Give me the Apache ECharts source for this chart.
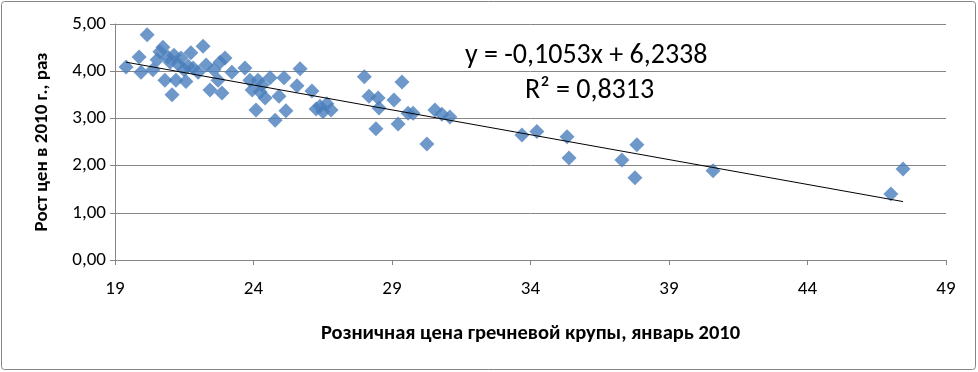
<!DOCTYPE html>
<html><head><meta charset="utf-8">
<script src="https://cdn.jsdelivr.net/npm/echarts@6/dist/echarts.min.js"></script>
<style>html,body{margin:0;padding:0;background:#fff}#c{width:978px;height:372px}</style>
</head><body><div id="c"></div>
<script>
var priceJan2010 = [19.4,19.87,19.94,20.16,20.37,20.52,20.62,20.73,20.80,20.91,20.99,21.06,21.13,21.20,21.27,21.38,21.49,21.56,21.64,21.74,21.82,22.00,22.18,22.29,22.43,22.57,22.72,22.79,22.86,22.97,23.22,23.69,23.87,23.95,24.09,24.16,24.24,24.31,24.42,24.60,24.78,24.92,25.10,25.17,25.57,25.68,26.11,26.26,26.40,26.51,26.65,26.80,28.00,28.17,28.42,28.50,28.53,29.07,29.22,29.36,29.58,29.76,30.26,30.55,30.80,31.09,33.69,34.23,35.32,35.39,37.30,37.77,37.84,40.59,47.01,47.45];
var growth2010 = [4.09,4.30,3.98,4.77,4.03,4.24,4.41,4.51,3.81,4.30,4.19,3.50,4.34,3.81,4.15,4.28,4.03,3.78,4.11,4.39,4.07,3.98,4.53,4.13,3.60,4.03,3.81,4.19,3.54,4.28,3.98,4.07,3.81,3.60,3.18,3.81,3.56,3.71,3.43,3.86,2.96,3.47,3.86,3.16,3.69,4.05,3.58,3.20,3.26,3.14,3.31,3.18,3.88,3.47,2.78,3.43,3.22,3.39,2.88,3.77,3.11,3.11,2.46,3.18,3.09,3.03,2.65,2.72,2.61,2.16,2.12,1.74,2.44,1.89,1.40,1.93];
var trendSlope = -0.1053, trendIntercept = 6.2338;
var xTicks = [19,24,29,34,39,44,49];
var yTicks = [0,1,2,3,4,5];
var eqText = 'y = -0,1053x + 6,2338';
var r2Text = 'R² = 0,8313';
var xTitle = 'Розничная цена гречневой крупы, январь 2010';
var yTitle = 'Рост цен в 2010 г., раз';

var pts = priceJan2010.map(function(x,i){return [x, growth2010[i]];});
var xmin = Math.min.apply(null, priceJan2010), xmax = Math.max.apply(null, priceJan2010);
var trend = [[xmin, trendSlope*xmin+trendIntercept],[xmax, trendSlope*xmax+trendIntercept]];
var font = 'Carlito, "Open Sans", "Noto Sans", sans-serif';
var chart = echarts.init(document.getElementById('c'), null, {renderer:'canvas'});
chart.setOption({
  animation:false,
  backgroundColor:'#fff',
  grid:{left:115,right:32,top:24,bottom:112},
  xAxis:{type:'value',min:xTicks[0],max:xTicks[xTicks.length-1],interval:5,
    axisLine:{show:true,onZero:false,lineStyle:{color:'#868686'}},
    axisTick:{show:true,length:5,inside:false,lineStyle:{color:'#868686'}},
    splitLine:{show:false},
    axisLabel:{fontSize:19,color:'#000',fontFamily:font,margin:20},
    name:xTitle,nameLocation:'middle',nameGap:63,
    nameTextStyle:{fontSize:20.5,fontWeight:'bold',color:'#000',fontFamily:font}},
  yAxis:{type:'value',min:yTicks[0],max:yTicks[yTicks.length-1],interval:1,
    axisLine:{show:true,lineStyle:{color:'#868686'}},
    axisTick:{show:true,length:5,lineStyle:{color:'#868686'}},
    splitLine:{show:true,lineStyle:{color:'#868686',width:1}},
    axisLabel:{fontSize:19,color:'#000',fontFamily:font,margin:9,
      formatter:function(v){return v.toFixed(2).replace('.',',');}},
    name:yTitle,nameLocation:'middle',nameGap:63,
    nameTextStyle:{fontSize:19,fontWeight:'bold',color:'#000',fontFamily:font}},
  series:[
    {type:'scatter',data:pts,symbol:'diamond',symbolSize:15,
     itemStyle:{color:'#4A7EBB'},z:2},
    {type:'line',data:trend,symbol:'none',lineStyle:{color:'#000',width:1},z:3}
  ],
  graphic:[
    {type:'rect',shape:{x:1.5,y:1.5,width:974,height:368,r:3},style:{fill:null,stroke:'#868686',lineWidth:1},z:-1},
    {type:'text',left:465,top:42,style:{text:eqText,fontSize:28,fill:'#000',fontFamily:font}},
    {type:'text',left:525,top:77,style:{text:r2Text,fontSize:28,fill:'#000',fontFamily:font}}
  ]
});
</script></body></html>
